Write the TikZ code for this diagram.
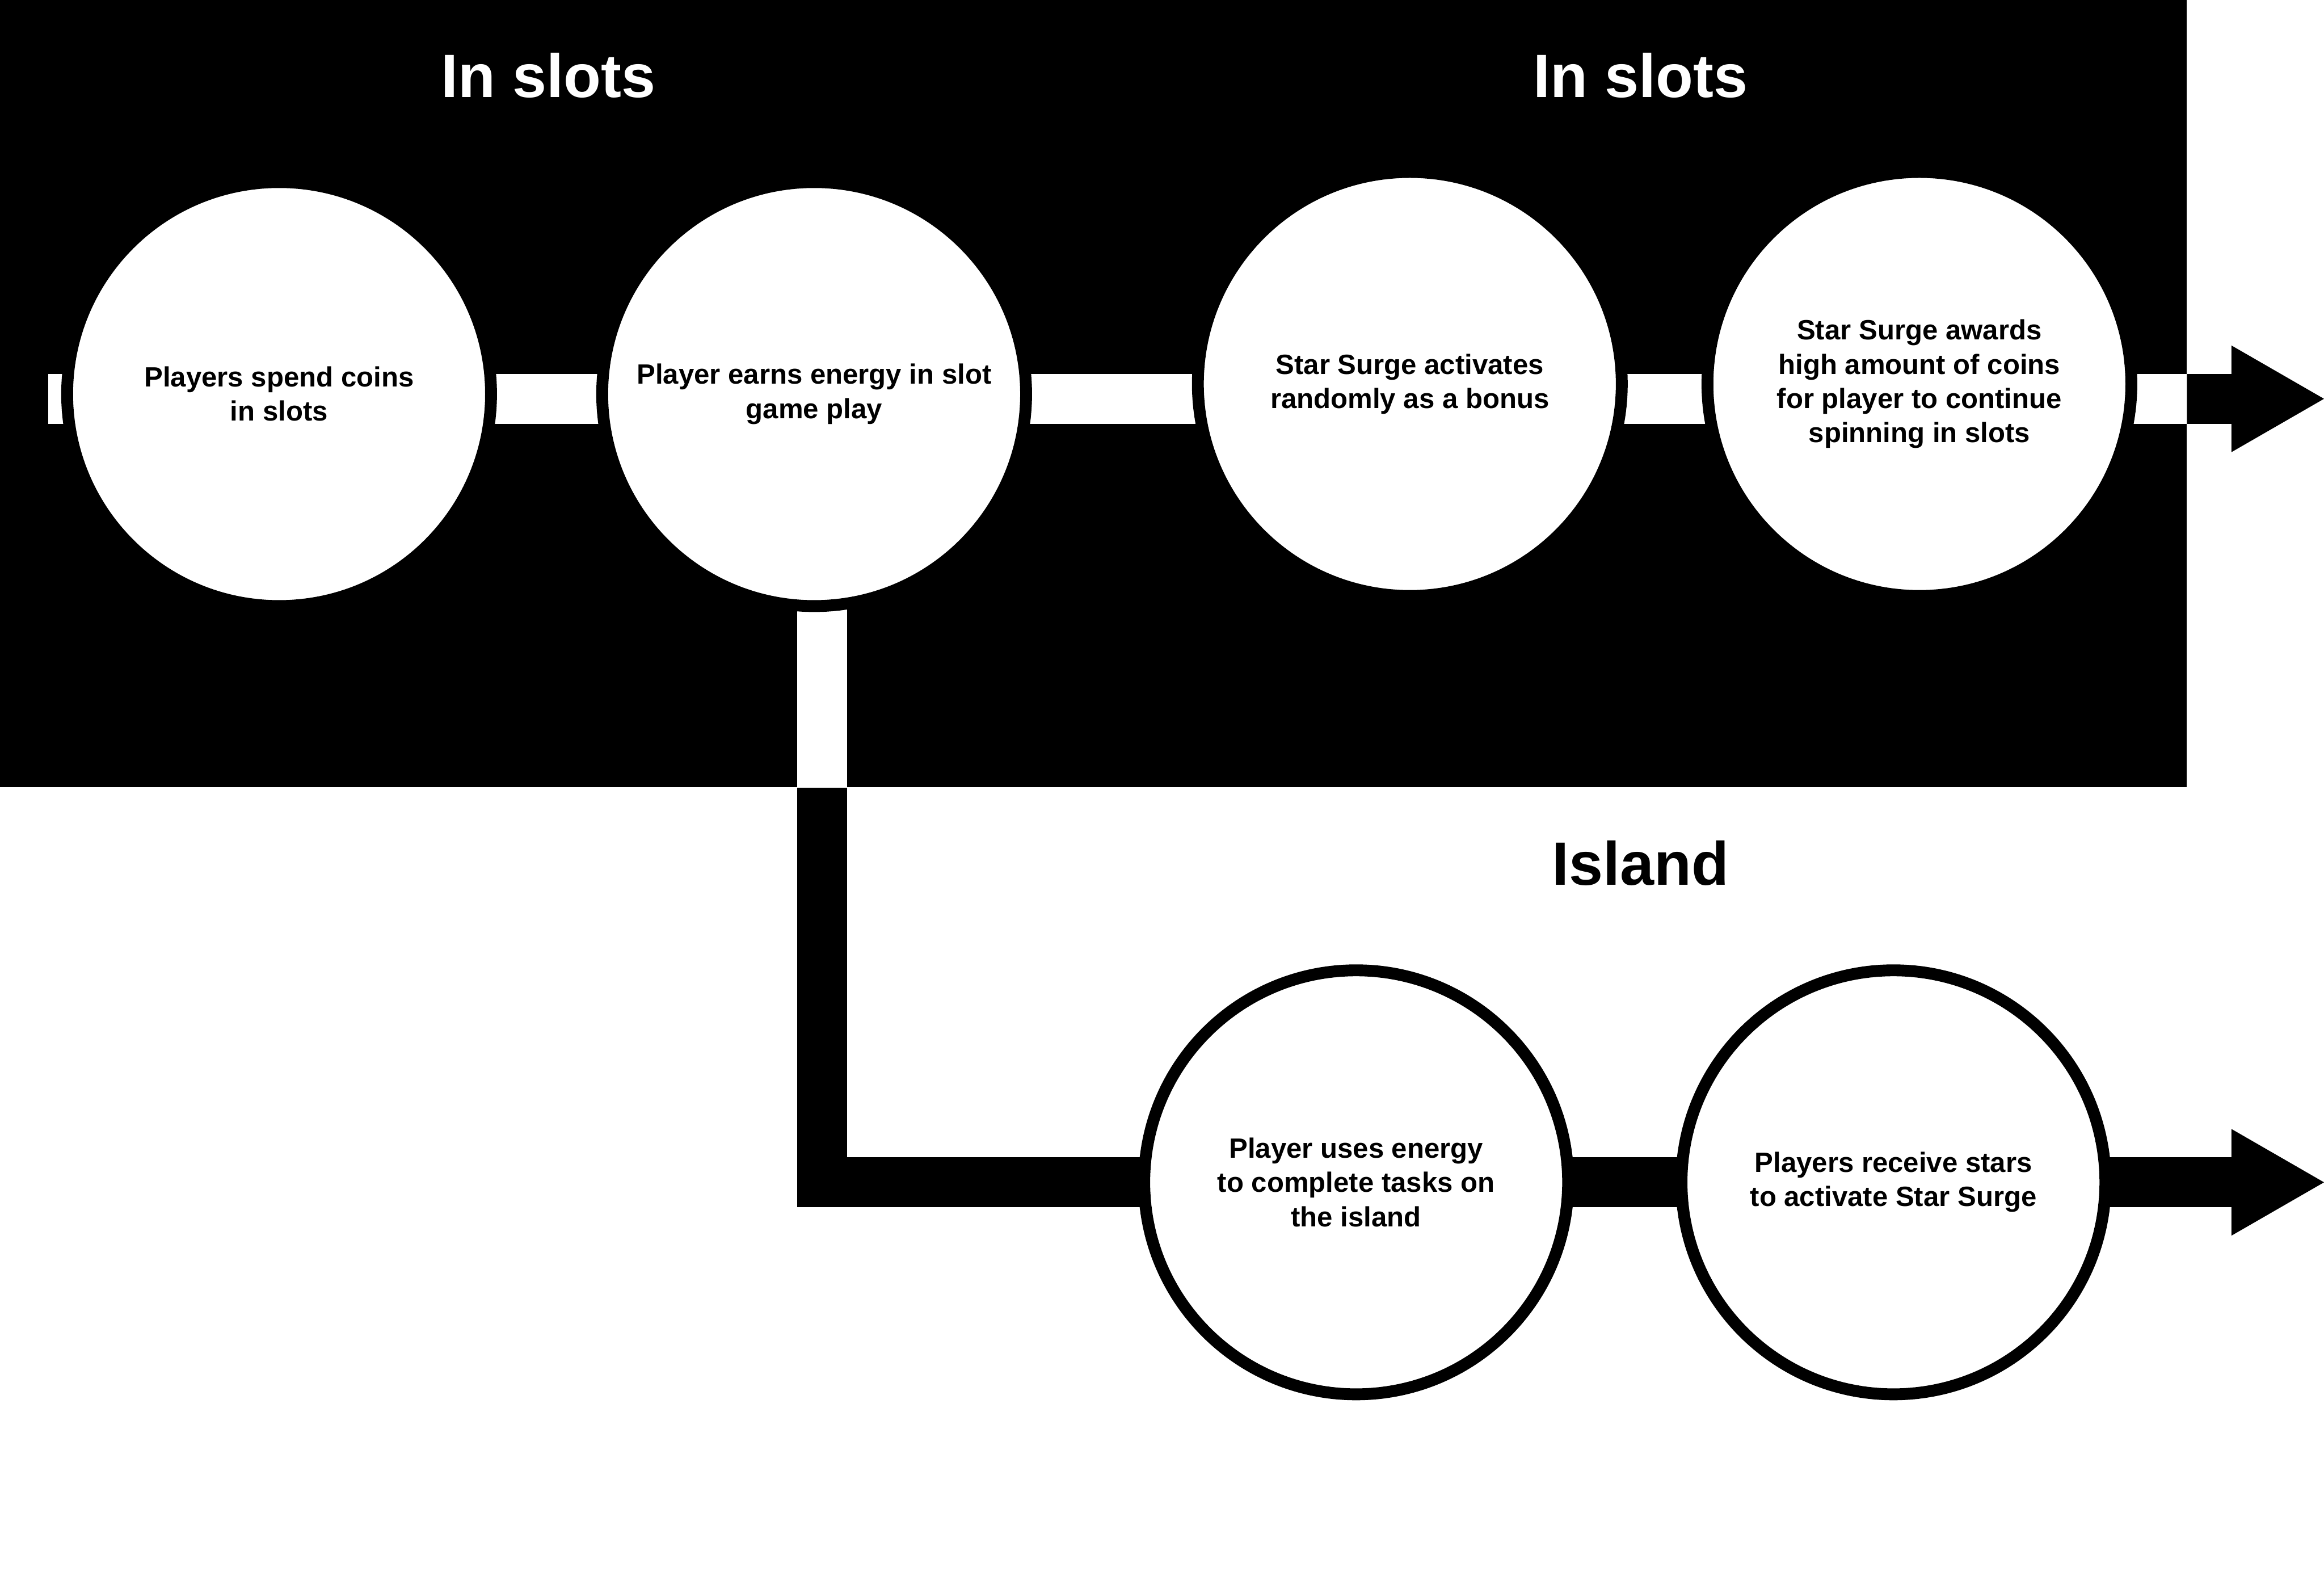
\documentclass[tikz,border=0pt]{standalone}
\usepackage{fontspec}
\setmainfont{Liberation Sans}
\usetikzlibrary{arrows.meta,backgrounds}

\begin{document}
\begin{tikzpicture}[x=0.2mm,y=-0.2mm,
	bubble/.style={circle,draw=black,fill=white,line width=1.6mm,minimum size=57.2mm,inner sep=0pt,align=center,font=\fontsize{10.7}{13.1}\selectfont\bfseries},
	heading/.style={anchor=base,font=\fontsize{23.5}{28}\selectfont\bfseries},
	flow/.style={line width=6.72mm,line join=miter},
	head/.style={-{Triangle[length=12.5mm,width=14.4mm,line width=0pt]}}]
	\useasboundingbox(0,0)rectangle(1568,1063);
	\node[heading,text=white](t1)at(370,65.5){In slots};
	\node[heading,text=white](t2)at(1107,65.5){In slots};
	\node[heading](t3)at(1107,597){Island};
	\node[bubble](c1)at(188.3,265.8){Players spend coins\\in slots};
	\node[bubble](c2)at(549.3,265.8){Player earns energy in slot\\game play};
	\node[bubble](c3)at(951.2,259){Star Surge activates\\randomly as a bonus};
	\node[bubble](c4)at(1295,259){Star Surge awards\\high amount of coins\\for player to continue\\spinning in slots};
	\node[bubble](c5)at(915,797.5){Player uses energy\\to complete tasks on\\the island};
	\node[bubble](c6)at(1277.5,797.5){Players receive stars\\to activate Star Surge};
	\coordinate(s1)at(32.5,269);
	\coordinate(tip1)at(1568,269);
	\coordinate(turn)at(554.7,797.5);
	\coordinate(tip2)at(1568,797.5);
	\begin{scope}[on background layer]
	\fill(0,0)rectangle(1475.5,531);
	\draw[flow,head](s1)--(tip1);
	\draw[flow,head](c2.center-|turn)--(turn)--(c5.center)--(c6.center)--(tip2);
	% inside the black panel the lines turn white
	\begin{scope}
	\clip(0,0)rectangle(1475.5,531);
	\draw[flow,white](s1)--(tip1);
	\draw[flow,white](c2.center-|turn)--(turn);
	\end{scope}
	\end{scope}
\end{tikzpicture}
\end{document}
